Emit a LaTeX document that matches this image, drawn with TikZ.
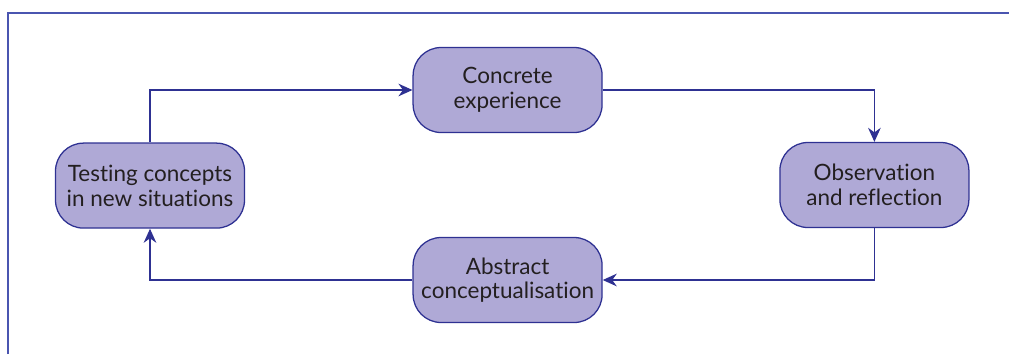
\documentclass[tikz,border=0pt]{standalone}
\usepackage{xcolor}
\usepackage{fontspec}
\setmainfont[Ligatures=NoCommon]{Lato}
\usepackage{tikz}
\usetikzlibrary{arrows.meta}
\definecolor{boxfill}{HTML}{AFA9D6}
\definecolor{boxline}{HTML}{2E3192}
\definecolor{framecol}{HTML}{4A55B0}
\definecolor{txtcol}{HTML}{231F20}

\begin{document}
\begin{tikzpicture}[
  stage/.style={draw=boxline, line width=0.9pt, fill=boxfill, rounded corners=0.7cm,
    minimum width=4.725cm, minimum height=2.125cm, align=center, text=txtcol,
    font=\fontsize{16}{17.5}\selectfont},
  link/.style={draw=boxline, line width=0.8pt, -{Stealth[length=10pt,width=9pt]}}]
\useasboundingbox (0,0) rectangle (25.225,-8.85);
\draw[framecol, line width=1.5pt] (0.2,-8.85) -- (0.2,-0.325) -- (25.225,-0.325);
  \node[stage] (concrete) at (12.69,-2.25) {Concrete\\experience};
  \node[stage] (observe) at (21.86,-4.625) {Observation\\and reflection};
  \node[stage] (abstract) at (12.69,-7.0) {Abstract\\conceptualisation};
  \node[stage] (testing) at (3.75,-4.64) {Testing concepts\\in new situations};
  \draw[link] (testing.north) |- (concrete.west);
  \draw[link] (concrete.east) -| (observe.north);
  \draw[link] (observe.south) |- (abstract.east);
  \draw[link] (abstract.west) -| (testing.south);
\end{tikzpicture}
\end{document}
